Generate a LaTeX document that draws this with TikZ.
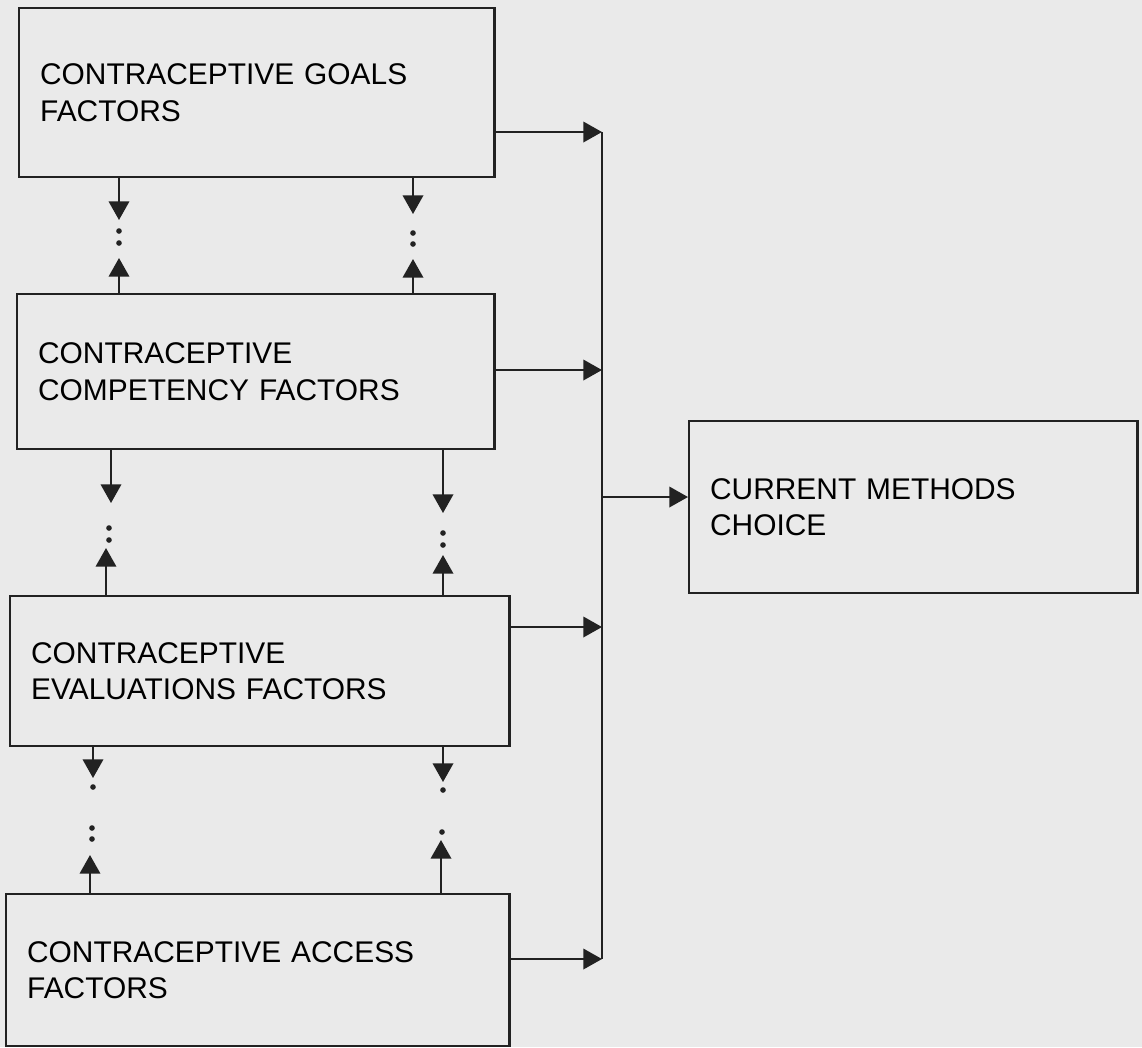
\documentclass[tikz,border=0pt]{standalone}
\usepackage{fontspec}
\setmainfont{Liberation Sans}
\usepackage{tikz}
\definecolor{scangray}{RGB}{234,234,234}
\definecolor{inkgray}{RGB}{34,34,34}
\usetikzlibrary{arrows.meta}

\begin{document}
\begin{tikzpicture}[x=0.01cm, y=-0.01cm]
        \tikzset{every node/.style={rectangle, draw=inkgray, line width=0.65pt, align=left, anchor=north west,
                        inner xsep=0.21cm, inner ysep=0pt, font=\fontsize{8.5pt}{10.25pt}\selectfont},
                >={Triangle[length=5.3pt, width=5.8pt, inkgray]},
                every edge/.style={draw=inkgray, line width=0.65pt}}

        \fill[scangray] (0,0) rectangle (1142,1047);
        \useasboundingbox (0,0) rectangle (1142,1047);

        \node[text width=4.33cm, minimum height=1.69cm] (1) at (18,7) {CONTRACEPTIVE GOALS\\FACTORS};
        \node[text width=4.35cm, minimum height=1.55cm] (2) at (16,293) {CONTRACEPTIVE\\COMPETENCY FACTORS};
        \node[text width=4.57cm, minimum height=1.50cm] (3) at (9,595) {CONTRACEPTIVE\\EVALUATIONS FACTORS};
        \node[text width=4.61cm, minimum height=1.52cm] (4) at (5,893) {CONTRACEPTIVE ACCESS\\FACTORS};
        \node[text width=4.06cm, minimum height=1.72cm] (5) at (688,420) {CURRENT METHODS\\CHOICE};

        % points on the joining line
        \coordinate (b1) at (602,132);
        \coordinate (b2) at (602,370);
        \coordinate (b3) at (602,627);
        \coordinate (b4) at (602,959);
        \coordinate (b5) at (602,497);

        \path [->] (1.east |- b1) edge (b1);
        \path [->] (2.east |- b2) edge (b2);
        \path [->] (3.east |- b3) edge (b3);
        \path [->] (4.east |- b4) edge (b4);
        \path (b1) edge (b4);
        \path [->] (b5) edge (5.west |- b5);

        % arrow tips between the boxes
        \coordinate (d1) at (119,220);  \coordinate (u1) at (119,258);
        \coordinate (d2) at (413,214);  \coordinate (u2) at (413,259);
        \coordinate (d3) at (111,503);  \coordinate (u3) at (106,548);
        \coordinate (d4) at (443,513);  \coordinate (u4) at (443,555);
        \coordinate (d5) at (93,778);   \coordinate (u5) at (90,855);
        \coordinate (d6) at (443,782);  \coordinate (u6) at (441,840);

        \path [->] (1.south -| d1) edge (d1);
        \path [->] (2.north -| u1) edge (u1);
        \path [->] (1.south -| d2) edge (d2);
        \path [->] (2.north -| u2) edge (u2);
        \path [->] (2.south -| d3) edge (d3);
        \path [->] (3.north -| u3) edge (u3);
        \path [->] (2.south -| d4) edge (d4);
        \path [->] (3.north -| u4) edge (u4);
        \path [->] (3.south -| d5) edge (d5);
        \path [->] (4.north -| u5) edge (u5);
        \path [->] (3.south -| d6) edge (d6);
        \path [->] (4.north -| u6) edge (u6);

        % dotted gaps
        \fill[inkgray] (119,231) circle (0.8pt) (119,243) circle (0.8pt)
                (413,233) circle (0.8pt) (413,244) circle (0.8pt)
                (109,528) circle (0.8pt) (109,540) circle (0.8pt)
                (443,533) circle (0.8pt) (443,545) circle (0.8pt)
                (93,787) circle (0.8pt) (92,828) circle (0.8pt) (92,839) circle (0.8pt)
                (443,790) circle (0.8pt) (442,832) circle (0.8pt);

    \end{tikzpicture}
\end{document}
